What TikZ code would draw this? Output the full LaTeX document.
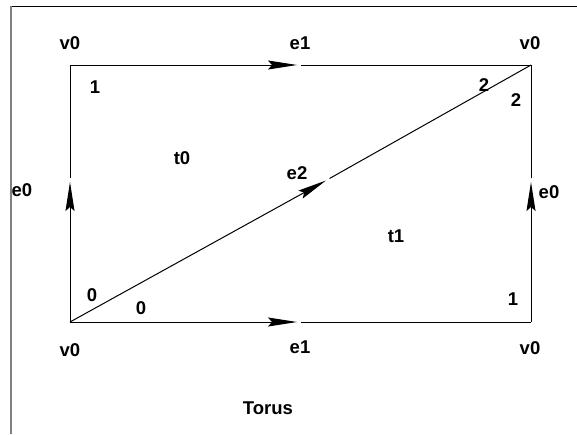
\documentclass[tikz,border=0pt]{standalone}
\usepackage{fontspec}
\setmainfont{Liberation Sans}
\usetikzlibrary{arrows.meta}
\begin{document}
\begin{tikzpicture}[x=1pt,y=-1pt,
  edge/.style={line width=1pt},
  arr/.style={line width=1pt,-{Stealth[length=29pt,width=9pt,inset=4pt]}},
  lab/.style={font=\bfseries\fontsize{18.5}{20}\selectfont,inner sep=0pt}]
\useasboundingbox (0,0) rectangle (577,434);
% frame
\draw[line width=1pt] (12,6) -- (577,6);
\draw[line width=2pt,gray] (11,6) -- (11,434);
% corners
\coordinate (BL) at (70,322);
\coordinate (BR) at (531,322);
\coordinate (TL) at (70,65);
\coordinate (TR) at (531,65);
% split points
\coordinate (tA) at (297,65);  \coordinate (tB) at (301,65);
\coordinate (bA) at (297,322); \coordinate (bB) at (301,322);
\coordinate (lA) at (70,182);  \coordinate (lB) at (70,178);
\coordinate (rA) at (531,182); \coordinate (rB) at (531,178);
\coordinate (dA) at (326,180.5); \coordinate (dB) at (329.5,178.5);
% edges
\draw[arr] (TL) -- (tA); \draw[edge] (tB) -- (TR);
\draw[arr] (BL) -- (bA); \draw[edge] (bB) -- (BR);
\draw[arr] (BL) -- (lA); \draw[edge] (lB) -- (TL);
\draw[arr] (BR) -- (rA); \draw[edge] (rB) -- (TR);
\draw[arr] (BL) -- (dA); \draw[edge] (dB) -- (TR);
% labels
\node[lab] (v0tl) at (70,43) {v0};
\node[lab] (e1t) at (300,43) {e1};
\node[lab] (v0tr) at (530,43) {v0};
\node[lab] (n1a) at (95,87) {1};
\node[lab] (n2a) at (484,85) {2};
\node[lab] (n2b) at (516,100) {2};
\node[lab] (t0) at (182,158) {t0};
\node[lab] (e2) at (297,173) {e2};
\node[lab] (e0l) at (22,190) {e0};
\node[lab] (e0r) at (549,192) {e0};
\node[lab] (t1) at (396,236) {t1};
\node[lab] (n0a) at (92,295) {0};
\node[lab] (n0b) at (141,308) {0};
\node[lab] (n1b) at (513,299) {1};
\node[lab] (v0bl) at (70,350) {v0};
\node[lab] (e1b) at (300,347) {e1};
\node[lab] (v0br) at (530,348) {v0};
\node[lab] (torus) at (268,408) {Torus};
\end{tikzpicture}
\end{document}
